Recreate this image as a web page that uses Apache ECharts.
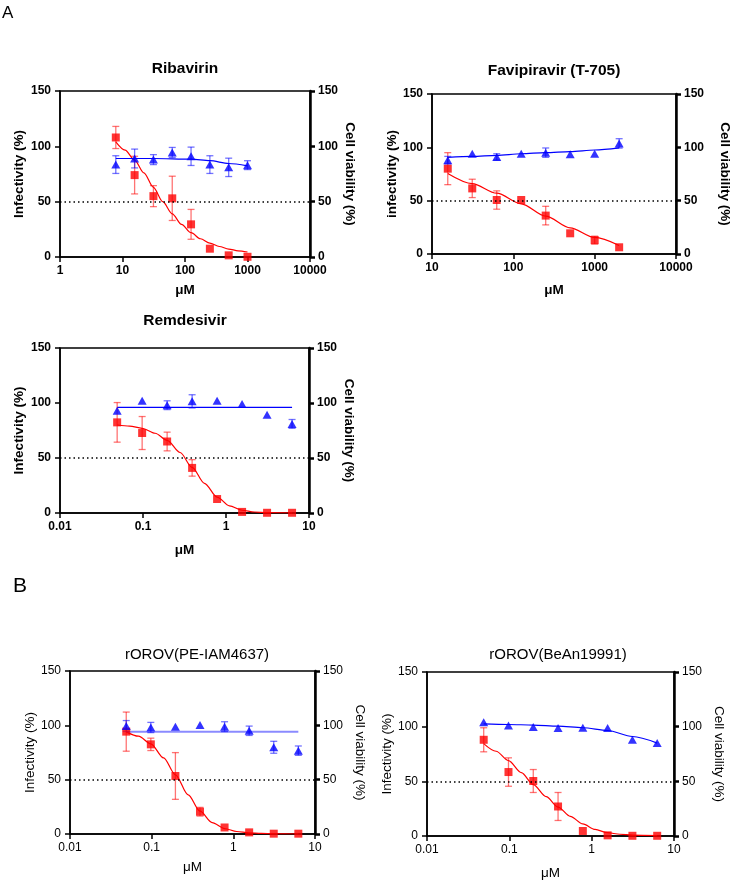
<!DOCTYPE html>
<html>
<head>
<meta charset="utf-8">
<title>Antiviral dose response</title>
<script src="https://cdn.jsdelivr.net/npm/echarts@6/dist/echarts.min.js"></script>
<style>
  html, body { margin: 0; padding: 0; background: #fff; }
  #chart { width: 731px; height: 880px; }
</style>
</head>
<body>
<div id="chart"></div>
<script>
// ---- data ----
// Ribavirin
const ribX = [7.8125, 15.625, 31.25, 62.5, 125, 250, 500, 1000]
const ribInf = [108, 74, 55, 53, 29.5, 7.5, 1.5, 0.2]
const ribInfErr = [10, 17, 9.5, 20, 13.5, 0, 0, 0]
const ribViab = [83.5, 89, 88, 94.5, 91, 83.5, 81, 83]
const ribViabErr = [8, 8.5, 4.5, 4.5, 8.3, 8, 8.3, 4]
const ribInfFitX = [7.8125, 11, 15.625, 22, 31.25, 44, 62.5, 88, 125, 177, 250, 354, 500, 707, 1000]
const ribInfFit = [104, 96.5, 87.5, 76, 63, 50, 39, 29.5, 22, 16.5, 12.5, 9.5, 7.2, 5.6, 4.5]
const ribViabFitX = [7.8125, 31.25, 125, 250, 500, 1000]
const ribViabFit = [89, 89, 88.4, 87, 84.5, 82.4]

// Favipiravir (T-705)
const favX = [15.625, 31.25, 62.5, 125, 250, 500, 1000, 2000]
const favInf = [80, 61.5, 50.6, 50.6, 36, 19.4, 13, 6.3]
const favInfErr = [15, 8.6, 8.6, 0, 8.7, 0, 3.7, 0]
const favViab = [88, 94, 91, 94, 95, 93.4, 94, 103.7]
const favViabErr = [3.5, 0, 3, 0, 4.4, 0, 0, 4.4]
const favInfFit = [75.5, 66, 57, 47, 35.5, 24.5, 15.5, 8]
const favViabFit = [90.5, 91.5, 92.5, 94, 95, 96, 97.5, 99.5]

// Remdesivir
const remX = [0.048828, 0.097656, 0.195313, 0.390625, 0.78125, 1.5625, 3.125, 6.25]
const remInf = [82.4, 72.7, 65, 41, 12.7, 1, 0.2, 0.2]
const remInfErr = [18, 15, 8.5, 7.5, 0, 0, 0, 0]
const remViab = [93, 102, 98, 101.5, 102, 99, 89.4, 81]
const remViabErr = [0, 0, 4, 6, 0, 0, 0, 4]
const remInfFitX = [0.048828, 0.069, 0.097656, 0.14, 0.195313, 0.28, 0.390625, 0.55, 0.78125, 1.1, 1.5625, 2.2, 3.125, 6.25]
const remInfFit = [80, 79, 77, 72.5, 66, 55, 41.5, 27, 14.5, 6.5, 2.5, 0.9, 0.3, 0]
const remViabFitX = [0.048828, 6.25]
const remViabFit = [96, 96]

// rOROV(PE-IAM4637)
const peX = [0.048828, 0.097656, 0.195313, 0.390625, 0.78125, 1.5625, 3.125, 6.25]
const peInf = [94.2, 82.5, 53.4, 20.5, 6, 1.5, 0.3, 0.3]
const peInfErr = [18, 5.7, 21.5, 4, 0, 0, 0, 0]
const peViab = [99.4, 98, 98.8, 100.3, 98.8, 95, 79.8, 76.7]
const peViabErr = [5, 4.7, 0, 0, 4.5, 4.3, 5.5, 4.3]
const peInfFitX = [0.048828, 0.069, 0.097656, 0.14, 0.195313, 0.28, 0.390625, 0.55, 0.78125, 1.1, 1.5625, 2.2, 3.125, 6.25]
const peInfFit = [94, 90, 83, 70, 54.5, 36, 21, 10.5, 5, 2.3, 1, 0.5, 0.2, 0]
const peViabFitX = [0.048828, 6.25]
const peViabFit = [94.2, 94.2]

// rOROV(BeAn19991)
const beX = [0.048828, 0.097656, 0.195313, 0.390625, 0.78125, 1.5625, 3.125, 6.25]
const beInf = [88, 58.5, 50.3, 27, 4.6, 0.6, 0.2, 0.2]
const beInfErr = [11, 13, 10.5, 12.8, 0, 0, 0, 0]
const beViab = [104, 101, 99.7, 98.8, 99, 98.8, 88, 85]
const beViabErr = [0, 0, 0, 0, 0, 0, 0, 0]
const beInfFitX = [0.048828, 0.069, 0.097656, 0.14, 0.195313, 0.28, 0.390625, 0.55, 0.78125, 1.1, 1.5625, 2.2, 3.125, 6.25]
const beInfFit = [84.5, 77.5, 69, 58, 47, 36, 26.5, 18, 11, 6, 3, 1.6, 0.8, 0.3]
const beViabFit = [102.5, 102, 101.5, 100.5, 99, 96.5, 91, 85]

const yTicks = [0, 50, 100, 150]
const halfLine = 50

// ---- panel layout ----
const RED = '#ff0000'
const BLUE = '#0000ff'
const RED_ERR = 'rgba(255, 0, 0, 0.55)'
const BLUE_ERR = 'rgba(0, 0, 255, 0.55)'

const panels = [
  {
    title: 'Ribavirin', bold: true, tx: 185, ty: 61,
    grid: { left: 60, top: 91, width: 250, height: 166 },
    xMin: 1, xMax: 10000, leftName: 'Infectivity (%)', leftGap: 34, rightGap: 33, xGap: 26,
    x: ribX, inf: ribInf, infErr: ribInfErr, viab: ribViab, viabErr: ribViabErr,
    infFitX: ribInfFitX, infFit: ribInfFit, viabFitX: ribViabFitX, viabFit: ribViabFit
  },
  {
    title: 'Favipiravir (T-705)', bold: true, tx: 554, ty: 63,
    grid: { left: 432, top: 94, width: 244, height: 160 },
    xMin: 10, xMax: 10000, leftName: 'infectivity (%)', leftGap: 32, rightGap: 42, xGap: 29,
    x: favX, inf: favInf, infErr: favInfErr, viab: favViab, viabErr: favViabErr,
    infFitX: favX, infFit: favInfFit, viabFitX: favX, viabFit: favViabFit
  },
  {
    title: 'Remdesivir', bold: true, tx: 185, ty: 313,
    grid: { left: 60, top: 348, width: 249, height: 165 },
    xMin: 0.01, xMax: 10, leftName: 'Infectivity (%)', leftGap: 34, rightGap: 33, xGap: 30,
    x: remX, inf: remInf, infErr: remInfErr, viab: remViab, viabErr: remViabErr,
    infFitX: remInfFitX, infFit: remInfFit, viabFitX: remViabFitX, viabFit: remViabFit
  },
  {
    title: 'rOROV(PE-IAM4637)', bold: false, tx: 197, ty: 647,
    grid: { left: 70, top: 671, width: 245, height: 163 },
    xMin: 0.01, xMax: 10, leftName: 'Infectivity (%)', leftGap: 33, rightGap: 38, xGap: 26,
    x: peX, inf: peInf, infErr: peInfErr, viab: peViab, viabErr: peViabErr,
    infFitX: peInfFitX, infFit: peInfFit, viabFitX: peViabFitX, viabFit: peViabFit
  },
  {
    title: 'rOROV(BeAn19991)', bold: false, tx: 558, ty: 647,
    grid: { left: 427, top: 672, width: 247, height: 164 },
    xMin: 0.01, xMax: 10, leftName: 'Infectivity (%)', leftGap: 33, rightGap: 38, xGap: 30,
    x: beX, inf: beInf, infErr: beInfErr, viab: beViab, viabErr: beViabErr,
    infFitX: beInfFitX, infFit: beInfFit, viabFitX: beX, viabFit: beViabFit
  }
]

const FONT = '"Liberation Sans", Arial, sans-serif'

function pairs(xs, ys) {
  return xs.map((x, k) => [x, ys[k]])
}

// error bars drawn through the axes' own scales
function errSeries(xs, ys, errs, xi, yi, color) {
  return {
    type: 'custom',
    xAxisIndex: xi,
    yAxisIndex: yi,
    z: 3,
    silent: true,
    data: xs.map((x, k) => [x, ys[k], errs[k]]),
    encode: { x: 0, y: 1 },
    renderItem: function(params, api) {
      const x = api.value(0)
      const y = api.value(1)
      const e = api.value(2)
      if (!e) return { type: 'group', children: [] }
      const top = api.coord([x, y + e])
      const bot = api.coord([x, y - e])
      const w = 3.5
      const style = { stroke: color, lineWidth: 1.3 }
      return {
        type: 'group',
        children: [
          { type: 'line', shape: { x1: top[0], y1: top[1], x2: bot[0], y2: bot[1] }, style: style },
          { type: 'line', shape: { x1: top[0] - w, y1: top[1], x2: top[0] + w, y2: top[1] }, style: style },
          { type: 'line', shape: { x1: bot[0] - w, y1: bot[1], x2: bot[0] + w, y2: bot[1] }, style: style }
        ]
      }
    }
  }
}

function fmtLog(v) {
  return String(Number(v.toPrecision(3)))
}

const option = {
  animation: false,
  backgroundColor: '#fff',
  title: [
    { text: 'A', left: 2, top: 5, padding: 0, textStyle: { fontFamily: FONT, fontSize: 17, fontWeight: 'normal', color: '#000' } },
    { text: 'B', left: 13, top: 576, padding: 0, textStyle: { fontFamily: FONT, fontSize: 21, fontWeight: 'normal', color: '#000' } }
  ],
  grid: [],
  xAxis: [],
  yAxis: [],
  series: []
}

panels.forEach((p, i) => {
  const weight = p.bold ? 'bold' : 'normal'
  const tickSize = 12
  const nameStyle = { fontFamily: FONT, fontSize: 13.5, fontWeight: weight, color: '#000' }

  option.title.push({
    text: p.title,
    left: p.tx,
    top: p.ty,
    padding: 0,
    textAlign: 'center',
    textStyle: { fontFamily: FONT, fontSize: p.bold ? 15.5 : 15, fontWeight: weight, color: '#000' }
  })

  option.grid.push(Object.assign({
    show: true,
    borderColor: '#000',
    borderWidth: 1.5,
    backgroundColor: 'transparent',
    containLabel: false,
    outerBoundsMode: 'none'
  }, p.grid))

  option.xAxis.push({
    type: 'log',
    logBase: 10,
    gridIndex: i,
    min: p.xMin,
    max: p.xMax,
    name: 'μM',
    nameLocation: 'middle',
    nameGap: p.xGap,
    nameTextStyle: nameStyle,
    axisLine: { show: true, lineStyle: { color: '#000', width: 1.5 } },
    axisTick: { show: true, inside: false, length: 5, lineStyle: { color: '#000', width: 1.5 } },
    minorTick: { show: false },
    splitLine: { show: false },
    axisLabel: {
      margin: 8, color: '#000', fontFamily: FONT, fontSize: tickSize, fontWeight: weight,
      showMinLabel: true, showMaxLabel: true, formatter: fmtLog
    }
  })

  const yBase = {
    type: 'value',
    gridIndex: i,
    min: yTicks[0],
    max: yTicks[yTicks.length - 1],
    interval: yTicks[1] - yTicks[0],
    nameLocation: 'middle',
    nameTextStyle: nameStyle,
    splitLine: { show: false },
    axisLabel: { color: '#000', fontFamily: FONT, fontSize: tickSize, fontWeight: weight, margin: 9 }
  }
  option.yAxis.push(Object.assign({}, yBase, {
    position: 'left',
    name: p.leftName,
    nameGap: p.leftGap,
    nameRotate: 90,
    axisLine: { show: true, lineStyle: { color: '#000', width: 1.5 } },
    axisTick: { show: true, inside: false, length: 5, lineStyle: { color: '#000', width: 1.5 } }
  }))
  option.yAxis.push(Object.assign({}, yBase, {
    position: 'right',
    name: 'Cell viability (%)',
    nameGap: p.rightGap,
    nameRotate: -90,
    axisLine: { show: true, lineStyle: { color: '#000', width: 2.5 } },
    axisTick: { show: true, inside: false, length: 5, lineStyle: { color: '#000', width: 2.5 } },
    axisLabel: Object.assign({}, yBase.axisLabel, { margin: 8 })
  }))

  const yl = i * 2
  const yr = i * 2 + 1

  // fitted curves
  option.series.push({
    type: 'line', xAxisIndex: i, yAxisIndex: yl, z: 2,
    data: pairs(p.infFitX, p.infFit),
    smooth: 0.3, smoothMonotone: 'x', showSymbol: false, silent: true,
    lineStyle: { color: RED, width: 1.2 },
    markLine: {
      silent: true, symbol: 'none', label: { show: false },
      lineStyle: { color: '#000', type: [1.5, 3], width: 1.5 },
      data: [{ yAxis: halfLine }]
    }
  })
  option.series.push({
    type: 'line', xAxisIndex: i, yAxisIndex: yr, z: 2,
    data: pairs(p.viabFitX, p.viabFit),
    smooth: 0.3, smoothMonotone: 'x', showSymbol: false, silent: true,
    lineStyle: { color: i === 3 ? 'rgba(60, 60, 255, 0.6)' : BLUE, width: i === 3 ? 2 : 1.2 }
  })

  // error bars
  option.series.push(errSeries(p.x, p.inf, p.infErr, i, yl, RED_ERR))
  option.series.push(errSeries(p.x, p.viab, p.viabErr, i, yr, BLUE_ERR))

  // points
  option.series.push({
    type: 'scatter', xAxisIndex: i, yAxisIndex: yl, z: 4,
    data: pairs(p.x, p.inf),
    symbol: 'rect', symbolSize: 8,
    itemStyle: { color: RED }
  })
  option.series.push({
    type: 'scatter', xAxisIndex: i, yAxisIndex: yr, z: 4,
    data: pairs(p.x, p.viab),
    symbol: 'triangle', symbolSize: [9, 8],
    itemStyle: { color: BLUE }
  })
})

const chart = echarts.init(document.getElementById('chart'), null, { renderer: 'canvas' })
chart.setOption(option)
window.addEventListener('resize', () => chart.resize())
</script>
</body>
</html>
